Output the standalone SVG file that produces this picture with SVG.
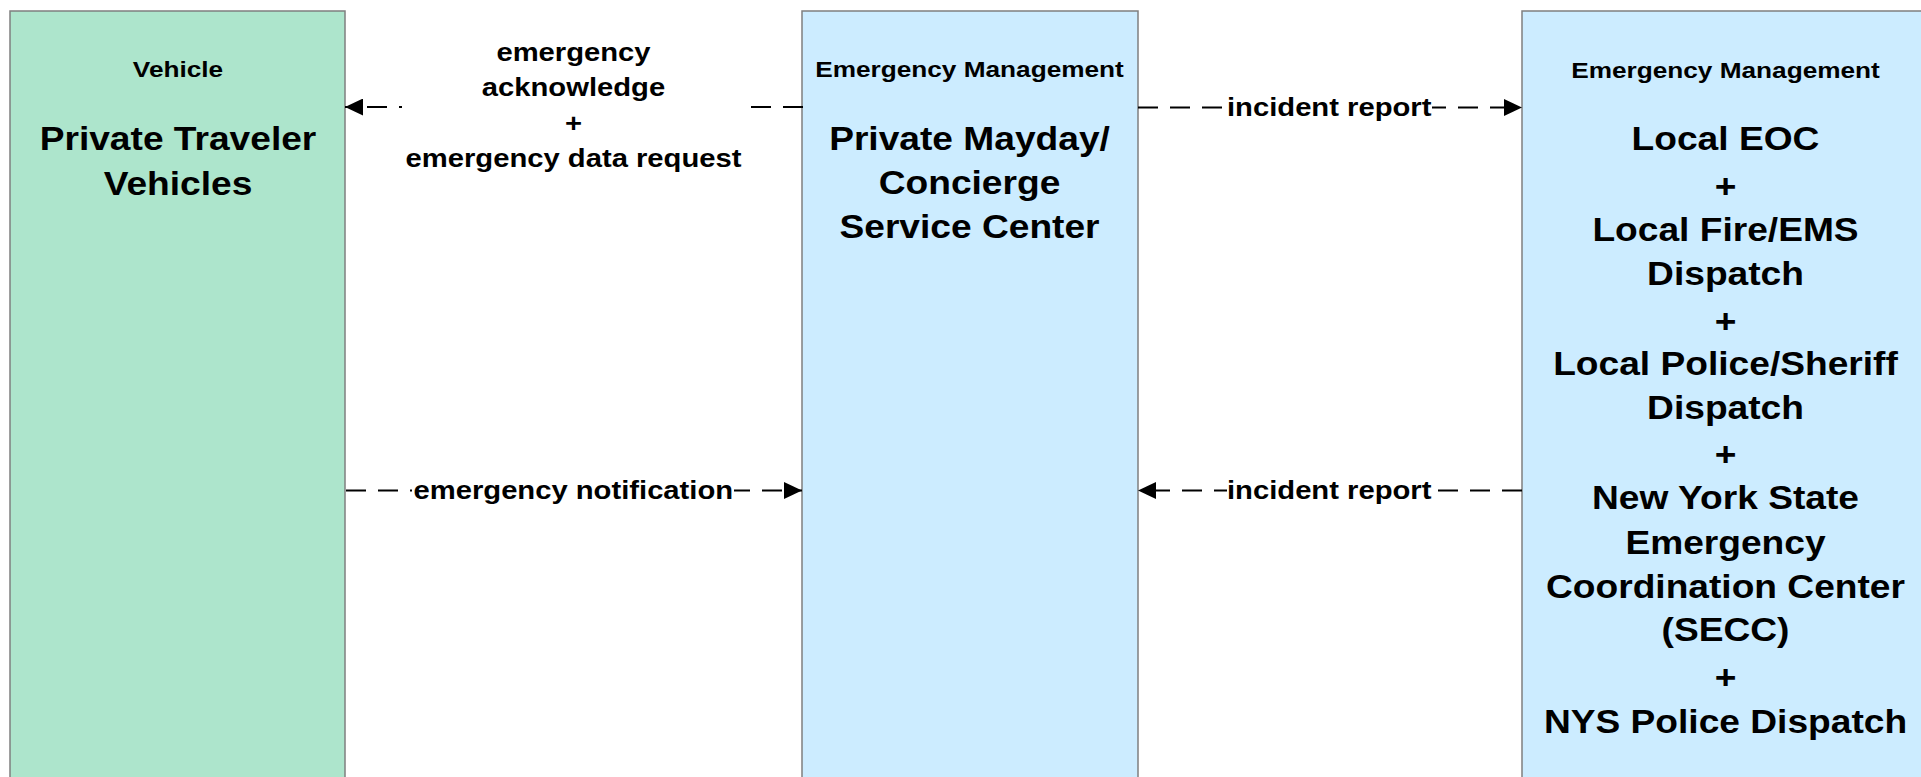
<svg xmlns="http://www.w3.org/2000/svg" width="1921" height="777" viewBox="0 0 1921 777">
<style>
.box{stroke:#7f7f7f;stroke-width:1.5}
.veh{fill:#ade5cc}
.em{fill:#ccecff}
text{font-family:"Liberation Sans",Arial,sans-serif;font-weight:bold;fill:#000;text-anchor:middle}
.hdr{font-size:22.8px}
.main{font-size:32.3px}
.lbl{font-size:25.4px}
.conn{stroke:#000;stroke-width:2;stroke-dasharray:20 12;fill:none}
.lblbg{fill:#fff}
</style>
<defs>
<marker id="ah" viewBox="0 0 18 17" refX="18" refY="8.5" markerWidth="18" markerHeight="17" orient="auto" markerUnits="userSpaceOnUse">
<path d="M0,0 L18,8.5 L0,17 Z" fill="#000"/>
</marker>
</defs>
<rect x="0" y="0" width="1921" height="777" fill="#fff"/>

<g id="node-vehicle">
<rect class="box veh" x="10" y="11" width="335" height="790"/>
<g transform="translate(178 0) scale(1.15 1)">
<text class="hdr" x="0" y="77">Vehicle</text>
<text class="main" x="0" y="150.5">Private Traveler</text>
<text class="main" x="0" y="195.5">Vehicles</text>
</g>
</g>

<g id="node-mayday">
<rect class="box em" x="802" y="11" width="336" height="790"/>
<g transform="translate(969.5 0) scale(1.15 1)">
<text class="hdr" x="0" y="77.3">Emergency Management</text>
<text class="main" x="0" y="150.5">Private Mayday/</text>
<text class="main" x="0" y="194.5">Concierge</text>
<text class="main" x="0" y="238">Service Center</text>
</g>
</g>

<g id="node-eoc">
<rect class="box em" x="1522" y="11" width="420" height="790"/>
<g transform="translate(1725.5 0) scale(1.15 1)">
<text class="hdr" x="0" y="78">Emergency Management</text>
<text class="main" x="0" y="150">Local EOC</text>
<text class="main" x="0" y="197.8">+</text>
<text class="main" x="0" y="241.3">Local Fire/EMS</text>
<text class="main" x="0" y="285.5">Dispatch</text>
<text class="main" x="0" y="332.6">+</text>
<text class="main" x="0" y="375.5">Local Police/Sheriff</text>
<text class="main" x="0" y="419">Dispatch</text>
<text class="main" x="0" y="466.1">+</text>
<text class="main" x="0" y="509.3">New York State</text>
<text class="main" x="0" y="554">Emergency</text>
<text class="main" x="0" y="597.8">Coordination Center</text>
<text class="main" x="0" y="641">(SECC)</text>
<text class="main" x="0" y="689.1">+</text>
<text class="main" x="0" y="733">NYS Police Dispatch</text>
</g>
</g>

<g id="connectors">
<path class="conn" d="M803,107 L345,107" marker-end="url(#ah)"/>
<path class="conn" d="M1138,107.5 L1522,107.5" marker-end="url(#ah)"/>
<path class="conn" d="M346,490.5 L802,490.5" marker-end="url(#ah)"/>
<path class="conn" d="M1522,490.5 L1138,490.5" marker-end="url(#ah)"/>

<rect class="lblbg" x="402" y="38" width="340" height="136"/>
<rect class="lblbg" x="1227" y="96" width="205" height="28"/>
<rect class="lblbg" x="412" y="478" width="322" height="28"/>
<rect class="lblbg" x="1227" y="478" width="205" height="28"/>

<g transform="translate(573.5 0) scale(1.15 1)">
<text class="lbl" x="0" y="60.7">emergency</text>
<text class="lbl" x="0" y="96.5">acknowledge</text>
<text class="lbl" x="0" y="132">+</text>
<text class="lbl" x="0" y="167">emergency data request</text>
</g>
<g transform="translate(1329.2 0) scale(1.15 1)">
<text class="lbl" x="0" y="116.4">incident report</text>
</g>
<g transform="translate(573.3 0) scale(1.15 1)">
<text class="lbl" x="0" y="499.3">emergency notification</text>
</g>
<g transform="translate(1329.2 0) scale(1.15 1)">
<text class="lbl" x="0" y="499.3">incident report</text>
</g>
</g>
</svg>
